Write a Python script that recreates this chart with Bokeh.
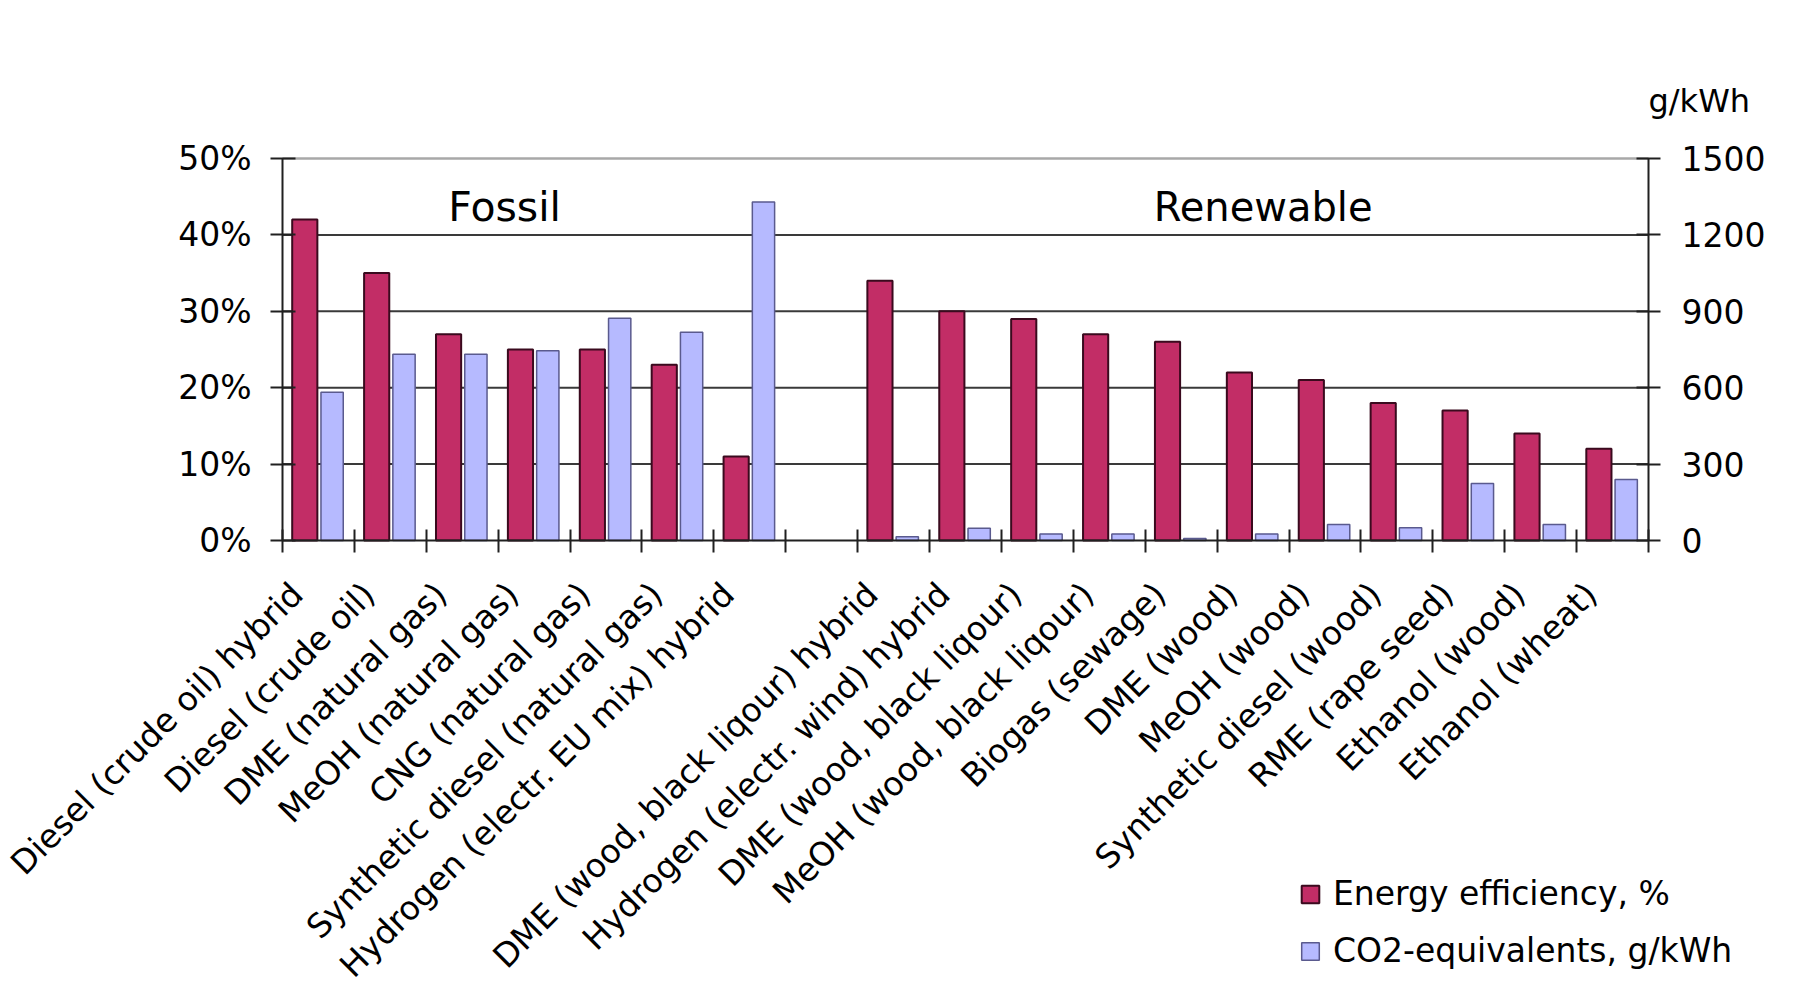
import numpy as np
from bokeh.plotting import figure
from bokeh.models import (ColumnDataSource, Range1d, LinearAxis, FixedTicker,
                          Label, Legend, LegendItem)
from bokeh.embed import file_html
from bokeh.resources import INLINE

# ---------------- data ----------------
categories = [
    "Diesel (crude oil) hybrid", "Diesel (crude oil)", "DME (natural gas)",
    "MeOH (natural gas)", "CNG (natural gas)", "Synthetic diesel (natural gas)",
    "Hydrogen (electr. EU mix) hybrid", "",
    "DME (wood, black liqour) hybrid", "Hydrogen (electr. wind) hybrid",
    "DME (wood, black liqour)", "MeOH (wood, black liqour)", "Biogas (sewage)",
    "DME (wood)", "MeOH (wood)", "Synthetic diesel (wood)", "RME (rape seed)",
    "Ethanol (wood)", "Ethanol (wheat)",
]
efficiency_pct = [42, 35, 27, 25, 25, 23, 11, None, 34, 30, 29, 27, 26, 22, 21, 18, 17, 14, 12]
co2_g_kwh = [582, 731, 731, 745, 873, 818, 1329, None, 15, 48, 26, 26, 8, 26, 63, 50, 224, 63, 240]
left_ticks = [0, 10, 20, 30, 40, 50]
left_tick_labels = ["0%", "10%", "20%", "30%", "40%", "50%"]
right_ticks = [0, 300, 600, 900, 1200, 1500]
series_names = ["Energy efficiency, %", "CO2-equivalents, g/kWh"]
group_names = ["Fossil", "Renewable"]
right_unit = "g/kWh"

FONT = "DejaVu Sans"
RED = "#C22D66"
RED_LINE = "#3A0A1E"
BLUE = "#B6BAFF"
BLUE_LINE = "#5A5A8E"

n = len(categories)
idx = np.arange(n)
red_idx = [i for i in idx if efficiency_pct[i] is not None]
blue_idx = [i for i in idx if co2_g_kwh[i] is not None]

red_src = ColumnDataSource(dict(x=[i + 0.5 - 0.19 for i in red_idx],
                                top=[efficiency_pct[i] for i in red_idx]))
blue_src = ColumnDataSource(dict(x=[i + 0.5 + 0.19 for i in blue_idx],
                                 top=[co2_g_kwh[i] for i in blue_idx]))

# ---- layout (pixels) : the frame is the whole canvas, the plotting area is
# the box PX_L..PX_R x PX_T..PX_B inside it; axes are pinned onto that box.
W, H = 1800, 994
PX_L, PX_R, PX_T, PX_B = 282, 1648, 158, 540
sx = (PX_R - PX_L) / n                      # px per category
X0 = -PX_L / sx
X1 = X0 + W / sx
Y_MAX = left_ticks[-1]
sy = (PX_B - PX_T) / Y_MAX                  # px per percent
Y_TOP = Y_MAX + PX_T / sy
Y_BOT = -(H - PX_B) / sy
C_MAX = right_ticks[-1]
k = C_MAX / Y_MAX

p = figure(frame_width=W, frame_height=H, title=None,
           x_range=Range1d(X0, X1), y_range=Range1d(Y_BOT, Y_TOP),
           output_backend="svg", toolbar_location=None, min_border=0,
           min_border_left=0, min_border_right=0, min_border_top=0,
           min_border_bottom=0)
p.background_fill_color = "white"
p.border_fill_color = "white"
p.outline_line_color = None
p.grid.visible = False

p.extra_y_ranges = {"co2": Range1d(Y_BOT * k, Y_TOP * k)}

# horizontal grid lines (10..40 dark, 50 light) across the category span
p.segment(x0=0, x1=n, y0=left_ticks[1:-1], y1=left_ticks[1:-1],
          line_color="#3a3a3a", line_width=2, level="underlay")
p.segment(x0=0, x1=n, y0=left_ticks[-1:], y1=left_ticks[-1:],
          line_color="#a8a8a8", line_width=2.5, level="underlay")

# bars
r_red = p.vbar(x="x", top="top", bottom=0, width=0.35, source=red_src,
               fill_color=RED, line_color=RED_LINE, line_width=2)
r_blue = p.vbar(x="x", top="top", bottom=0, width=0.31, source=blue_src,
                y_range_name="co2",
                fill_color=BLUE, line_color=BLUE_LINE, line_width=1.5)

# left axis, pinned at x = 0
ya = p.yaxis[0]
ya.fixed_location = 0
ya.bounds = (0, Y_MAX)
ya.ticker = FixedTicker(ticks=left_ticks)
ya.major_label_overrides = {t: s for t, s in zip(left_ticks, left_tick_labels)}
ya.major_label_text_font = FONT
ya.major_label_text_font_size = "33px"
ya.major_label_text_color = "black"
ya.axis_line_color = "#202020"
ya.axis_line_width = 2
ya.major_tick_line_color = "#202020"
ya.major_tick_line_width = 2
ya.major_tick_in = 13
ya.major_tick_out = 12
ya.minor_tick_line_color = None
ya.major_label_standoff = 19

# right axis, pinned at x = n
ra = LinearAxis(y_range_name="co2", ticker=FixedTicker(ticks=right_ticks),
                bounds=(0, C_MAX), fixed_location=n)
ra.major_label_text_font = FONT
ra.major_label_text_font_size = "33px"
ra.major_label_text_color = "black"
ra.axis_line_color = "#202020"
ra.axis_line_width = 2
ra.major_tick_line_color = "#202020"
ra.major_tick_line_width = 2
ra.major_tick_in = 12
ra.major_tick_out = 12
ra.minor_tick_line_color = None
ra.major_label_standoff = 21
p.add_layout(ra, "right")

# bottom axis, pinned to the zero line
LAB_SHIFT = 0.3
xa = p.xaxis[0]
xa.fixed_location = 0
xa.bounds = (0, n)
xa.ticker = FixedTicker(ticks=[i + 0.5 - LAB_SHIFT for i in idx if categories[i]],
                        minor_ticks=list(range(n + 1)))
xa.major_label_overrides = {float(i + 0.5 - LAB_SHIFT): categories[i]
                            for i in idx if categories[i]}
xa.major_label_orientation = np.pi / 4
xa.major_label_text_font = FONT
xa.major_label_text_font_size = "33px"
xa.major_label_text_color = "black"
xa.major_label_standoff = 36
xa.axis_line_color = "#202020"
xa.axis_line_width = 2
xa.major_tick_in = 0
xa.major_tick_out = 0
xa.minor_tick_line_color = "#202020"
xa.minor_tick_line_width = 2
xa.minor_tick_in = 11
xa.minor_tick_out = 12

# group titles
p.add_layout(Label(x=3.09, y=43.6, text=group_names[0], text_align="center",
                   text_baseline="middle", text_font=FONT, text_font_size="41px",
                   text_color="black"))
p.add_layout(Label(x=13.64, y=43.6, text=group_names[1], text_align="center",
                   text_baseline="middle", text_font=FONT, text_font_size="40px",
                   text_color="black"))

# unit label above the right axis
p.add_layout(Label(x=n, y=C_MAX, y_range_name="co2", y_offset=58, text=right_unit,
                   text_align="left", text_baseline="middle", text_font=FONT,
                   text_font_size="32px", text_color="black"))

# legend, lower right
legend = Legend(items=[LegendItem(label=series_names[0], renderers=[r_red]),
                       LegendItem(label=series_names[1], renderers=[r_blue])],
                location=(1299, H - 978 + 8), orientation="vertical")
legend.label_text_font = FONT
legend.label_text_font_size = "33px"
legend.label_text_color = "black"
legend.glyph_width = 22
legend.glyph_height = 22
legend.label_standoff = 12
legend.spacing = 18
legend.padding = 16
legend.margin = 0
legend.border_line_color = None
legend.background_fill_color = "white"
legend.background_fill_alpha = 1.0
p.add_layout(legend)

open("out.html", "w").write(file_html(p, INLINE))
